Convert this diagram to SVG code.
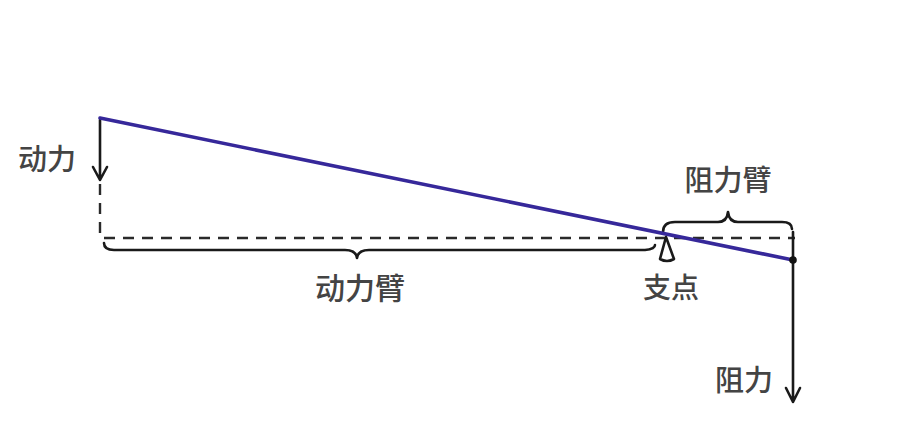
<svg xmlns="http://www.w3.org/2000/svg" width="917" height="438" viewBox="0 0 917 438">
<style>
.t{font-family:"Noto Sans CJK SC","Noto Sans",sans-serif;fill:#444;font-weight:500;}
.k{stroke:#1a1a1a;fill:none;stroke-width:2.6;stroke-linecap:round;stroke-linejoin:round;}
.d{stroke:#2a2a2a;fill:none;stroke-width:2.4;stroke-dasharray:11 8;}
</style>
<rect width="917" height="438" fill="#fff"/>
<g id="connectors">
<path class="d" d="M100 184 V238"/>
<path class="d" d="M104 238 H795"/>
<path class="k" d="M100 120 V180 M93 167 L100 180 L107 167"/>
<path class="k" d="M793 260 V402 M786 388 L793 402 L800 388"/>
<path class="k" d="M793 232 V260"/>
<path class="k" d="M104 243 Q104 250 114 250 L345 250 Q356 250 357 258 Q358 250 369 250 L645 250 Q655 249 655 245"/>
<path class="k" d="M663 232 Q663 222 675 222 L718 222 Q727 222 728 212 Q729 222 738 222 L782 222 Q792 222 792 229"/>
</g>
<g id="lever">
<line x1="100" y1="118" x2="793" y2="260" stroke="#36289a" stroke-width="3.6" stroke-linecap="round"/>
<circle cx="793" cy="260" r="3.8" fill="#111"/>
</g>
<g id="fulcrum">
<path class="k" d="M666 237 L660 259 Q667 263 674 259 Z"/>
<text class="t" x="671" y="298" font-size="28" text-anchor="middle">支点</text>
</g>
<g id="effort">
<text class="t" x="47" y="170" font-size="29" text-anchor="middle">动力</text>
</g>
<g id="effort-arm">
<text class="t" x="360" y="299" font-size="30" text-anchor="middle">动力臂</text>
</g>
<g id="load-arm">
<text class="t" x="728" y="191" font-size="29" text-anchor="middle">阻力臂</text>
</g>
<g id="load">
<text class="t" x="744" y="391" font-size="29" text-anchor="middle">阻力</text>
</g>
</svg>
